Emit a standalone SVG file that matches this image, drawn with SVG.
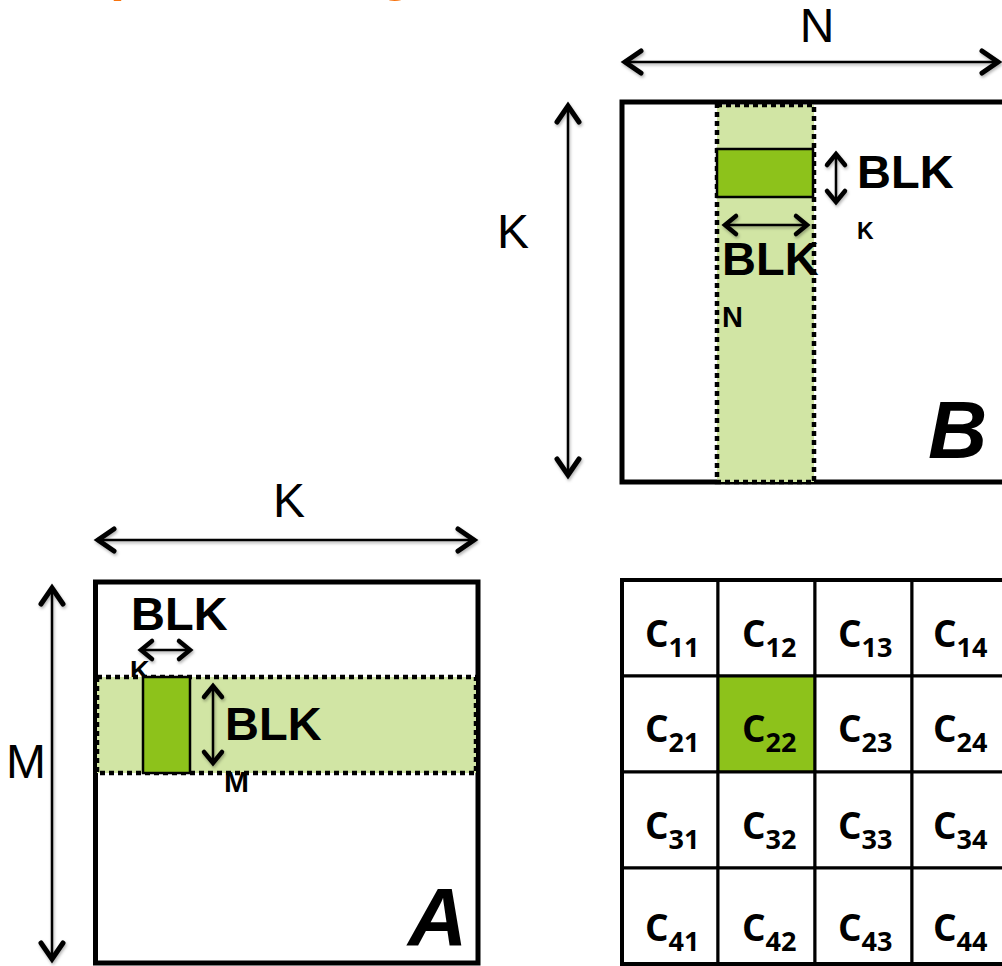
<svg xmlns="http://www.w3.org/2000/svg" width="1002" height="966" viewBox="0 0 1002 966">
  <style>
    .frame { fill: #fff; stroke: #000; stroke-width: 5; }
    .band { fill: #d1e5a4; stroke: #000; stroke-width: 4.5; stroke-dasharray: 5 4; }
    .tile { fill: #8dc21b; stroke: #000; stroke-width: 2.5; }
    .dim { fill: none; stroke: #000; stroke-width: 2.5; }
    .dimL { marker-start: url(#head); marker-end: url(#head); }
    .dimS { marker-start: url(#headS); marker-end: url(#headS); }
    .lbl { font-family: "Liberation Sans", Arial, sans-serif; font-size: 48px; fill: #000; }
    .blk { font-family: "Liberation Sans", Arial, sans-serif; font-weight: bold; font-size: 47px; fill: #000; }
    .sub { font-family: "Liberation Sans", Arial, sans-serif; font-weight: bold; fill: #000; }
    .big { font-family: "Liberation Sans", Arial, sans-serif; font-weight: bold; font-style: italic; font-size: 82px; fill: #000; }
    .cell { fill: #fff; stroke: #000; stroke-width: 3; }
    .cell.hot { fill: #8dc21b; }
    .ct { font-family: "Open Sans", "Liberation Sans", sans-serif; font-weight: bold; font-size: 37px; fill: #000; }
    .ct tspan { font-size: 27px; }
    .title { font-family: "Liberation Sans", Arial, sans-serif; font-weight: bold; font-size: 54px; fill: #f7730e; }
  </style>
  <defs>
    <filter id="soft" filterUnits="userSpaceOnUse" x="0" y="0" width="1002" height="966">
      <feDropShadow dx="1" dy="2" stdDeviation="1.5" flood-color="#000" flood-opacity="0.3"/>
    </filter>
    <marker id="head" markerUnits="userSpaceOnUse" markerWidth="40" markerHeight="40" refX="0" refY="0" orient="auto-start-reverse" overflow="visible">
      <path d="M-17,-11 L-1,0 L-17,11" fill="none" stroke="#000" stroke-width="5" stroke-linecap="round"/>
    </marker>
    <marker id="headS" markerUnits="userSpaceOnUse" markerWidth="30" markerHeight="30" refX="0" refY="0" orient="auto-start-reverse" overflow="visible">
      <path d="M-12,-9 L-1,0 L-12,9" fill="none" stroke="#000" stroke-width="4.5" stroke-linecap="round"/>
    </marker>
  </defs>

  <rect width="1002" height="966" fill="#fff"/>

  <!-- heading, clipped by the top edge -->
  <g id="title">
    <text class="title" x="110" y="-10">p</text>
    <text class="title" x="379" y="-10">g</text>
  </g>

  <!-- matrix B with its column panel -->
  <g id="matrixB">
    <rect class="frame" x="622" y="102" width="400" height="380"/>
    <rect class="band" x="717" y="105" width="97" height="377"/>
    <rect class="tile" x="717" y="149" width="96" height="48"/>
    <text class="blk" x="857" y="188">BLK</text>
    <text class="sub" x="857" y="239" font-size="23">K</text>
    <text class="blk" x="722" y="275">BLK</text>
    <text class="sub" x="722" y="327" font-size="29">N</text>
    <text class="big" x="928" y="458">B</text>
  </g>

  <!-- matrix A with its row panel -->
  <g id="matrixA">
    <rect class="frame" x="95.5" y="582" width="382.5" height="381"/>
    <text class="sub" x="130" y="680" font-size="27">K</text>
    <rect class="band" x="97" y="677" width="379" height="96"/>
    <rect class="tile" x="143" y="677" width="47" height="96"/>
    <text class="blk" x="131" y="630">BLK</text>
    <text class="blk" x="225" y="740">BLK</text>
    <text class="sub" x="224" y="792" font-size="30">M</text>
    <text class="big" x="408" y="945">A</text>
  </g>

  <!-- dimension labels -->
  <g id="labels">
    <text class="lbl" x="817" y="42" text-anchor="middle">N</text>
    <text class="lbl" x="513" y="248" text-anchor="middle">K</text>
    <text class="lbl" x="289" y="517" text-anchor="middle">K</text>
    <text class="lbl" x="26" y="778" text-anchor="middle">M</text>
  </g>

  <!-- dimension arrows -->
  <g id="connectors" filter="url(#soft)">
    <line class="dim dimL" x1="624" y1="62" x2="999" y2="62"/>
    <line class="dim dimL" x1="568" y1="105" x2="568" y2="476"/>
    <line class="dim dimL" x1="97" y1="540" x2="475" y2="540"/>
    <line class="dim dimL" x1="52" y1="587" x2="52" y2="960"/>
    <line class="dim dimS" x1="836" y1="153" x2="836" y2="203"/>
    <line class="dim dimS" x1="724" y1="225" x2="808" y2="225"/>
    <line class="dim dimS" x1="140" y1="650" x2="191" y2="650"/>
    <line class="dim dimS" x1="213" y1="685" x2="213" y2="764"/>
  </g>

  <!-- result matrix C split into 4x4 tiles -->
  <g id="matrixC">
    <rect class="cell" x="622" y="580" width="96" height="96"/>
    <rect class="cell" x="718" y="580" width="97" height="96"/>
    <rect class="cell" x="815" y="580" width="97" height="96"/>
    <rect class="cell" x="912" y="580" width="97" height="96"/>
    <rect class="cell" x="622" y="676" width="96" height="96"/>
    <rect class="cell hot" x="718" y="676" width="97" height="96"/>
    <rect class="cell" x="815" y="676" width="97" height="96"/>
    <rect class="cell" x="912" y="676" width="97" height="96"/>
    <rect class="cell" x="622" y="772" width="96" height="96"/>
    <rect class="cell" x="718" y="772" width="97" height="96"/>
    <rect class="cell" x="815" y="772" width="97" height="96"/>
    <rect class="cell" x="912" y="772" width="97" height="96"/>
    <rect class="cell" x="622" y="868" width="96" height="96"/>
    <rect class="cell" x="718" y="868" width="97" height="96"/>
    <rect class="cell" x="815" y="868" width="97" height="96"/>
    <rect class="cell" x="912" y="868" width="97" height="96"/>
    <rect x="622" y="580" width="390" height="384" fill="none" stroke="#000" stroke-width="4"/>

    <text class="ct" x="645" y="647">C<tspan dy="10">11</tspan></text>
    <text class="ct" x="742" y="647">C<tspan dy="10">12</tspan></text>
    <text class="ct" x="838" y="647">C<tspan dy="10">13</tspan></text>
    <text class="ct" x="933" y="647">C<tspan dy="10">14</tspan></text>
    <text class="ct" x="645" y="742">C<tspan dy="10">21</tspan></text>
    <text class="ct" x="742" y="742">C<tspan dy="10">22</tspan></text>
    <text class="ct" x="838" y="742">C<tspan dy="10">23</tspan></text>
    <text class="ct" x="933" y="742">C<tspan dy="10">24</tspan></text>
    <text class="ct" x="645" y="839">C<tspan dy="10">31</tspan></text>
    <text class="ct" x="742" y="839">C<tspan dy="10">32</tspan></text>
    <text class="ct" x="838" y="839">C<tspan dy="10">33</tspan></text>
    <text class="ct" x="933" y="839">C<tspan dy="10">34</tspan></text>
    <text class="ct" x="645" y="941">C<tspan dy="10">41</tspan></text>
    <text class="ct" x="742" y="941">C<tspan dy="10">42</tspan></text>
    <text class="ct" x="838" y="941">C<tspan dy="10">43</tspan></text>
    <text class="ct" x="933" y="941">C<tspan dy="10">44</tspan></text>
  </g>
</svg>
